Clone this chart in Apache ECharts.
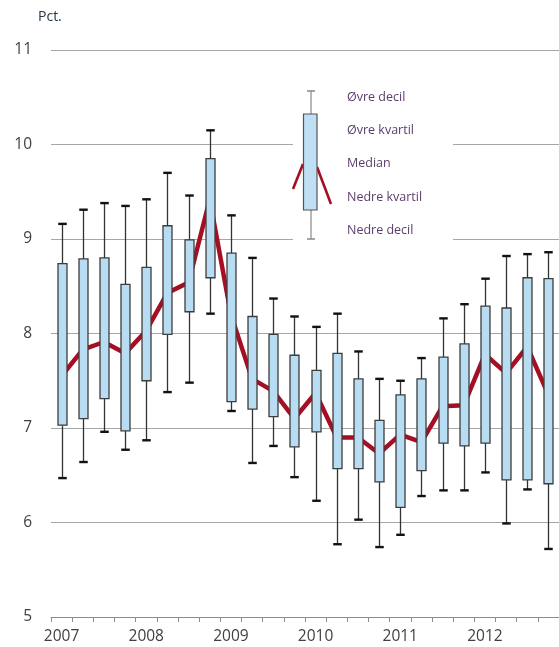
<!DOCTYPE html>
<html>
<head>
<meta charset="utf-8">
<script src="https://cdn.jsdelivr.net/npm/echarts@6/dist/echarts.min.js"></script>
<style>
  html, body { margin: 0; padding: 0; background: #fff; }
  #chart { width: 559px; height: 647px; }
</style>
</head>
<body>
<div id="chart"></div>
<script>
// Quarterly distribution, 2007 K1 - 2012 K4 (pct.)
const quarters = [
  '2007 K1', '2007 K2', '2007 K3', '2007 K4',
  '2008 K1', '2008 K2', '2008 K3', '2008 K4',
  '2009 K1', '2009 K2', '2009 K3', '2009 K4',
  '2010 K1', '2010 K2', '2010 K3', '2010 K4',
  '2011 K1', '2011 K2', '2011 K3', '2011 K4',
  '2012 K1', '2012 K2', '2012 K3', '2012 K4'
];
const upperDecile = [9.16, 9.31, 9.38, 9.35, 9.42, 9.70, 9.46, 10.15, 9.25, 8.80, 8.37, 8.18,
                     8.07, 8.21, 7.81, 7.52, 7.50, 7.74, 8.16, 8.31, 8.58, 8.82, 8.84, 8.86];
const upperQuartile = [8.74, 8.79, 8.80, 8.52, 8.70, 9.14, 8.99, 9.85, 8.85, 8.18, 7.99, 7.77,
                       7.61, 7.79, 7.52, 7.08, 7.35, 7.52, 7.75, 7.89, 8.29, 8.27, 8.59, 8.58];
const median = [7.55, 7.83, 7.91, 7.79, 8.03, 8.43, 8.54, 9.42, 8.20, 7.52, 7.39, 7.10,
                7.37, 6.90, 6.90, 6.73, 6.93, 6.85, 7.23, 7.24, 7.78, 7.58, 7.86, 7.35];
const lowerQuartile = [7.03, 7.10, 7.31, 6.97, 7.50, 7.99, 8.23, 8.59, 7.28, 7.20, 7.12, 6.80,
                       6.96, 6.57, 6.57, 6.43, 6.16, 6.55, 6.84, 6.81, 6.84, 6.45, 6.45, 6.41];
const lowerDecile = [6.47, 6.64, 6.96, 6.77, 6.87, 7.38, 7.48, 8.21, 7.18, 6.63, 6.81, 6.48,
                     6.23, 5.77, 6.03, 5.74, 5.87, 6.28, 6.34, 6.34, 6.53, 5.99, 6.35, 5.72];

const legendLabels = ['Øvre decil', 'Øvre kvartil', 'Median', 'Nedre kvartil', 'Nedre decil'];

const boxRows = quarters.map((q, i) => [
  i, upperDecile[i], upperQuartile[i], median[i], lowerQuartile[i], lowerDecile[i]
]);

const BOX_FILL = '#b8dcf2';
const BOX_EDGE = '#3d3d3d';
const MEDIAN_RED = '#a50f23';
const FONT = '"Open Sans", sans-serif';

function renderBox(params, api) {
  const i = api.value(0);
  const hi = api.coord([i, api.value(1)]);
  const q3 = api.coord([i, api.value(2)]);
  const q1 = api.coord([i, api.value(4)]);
  const lo = api.coord([i, api.value(5)]);
  const x = Math.round(hi[0]) + 0.5;
  const bw = 9, cw = 8.5;
  return {
    type: 'group',
    children: [
      { type: 'line', shape: { x1: x, y1: hi[1], x2: x, y2: q3[1] },
        style: { stroke: '#333', lineWidth: 1.3 } },
      { type: 'line', shape: { x1: x, y1: q1[1], x2: x, y2: lo[1] },
        style: { stroke: '#333', lineWidth: 1.3 } },
      { type: 'line', shape: { x1: x - cw / 2, y1: hi[1], x2: x + cw / 2, y2: hi[1] },
        style: { stroke: '#111', lineWidth: 2.4 } },
      { type: 'line', shape: { x1: x - cw / 2, y1: lo[1], x2: x + cw / 2, y2: lo[1] },
        style: { stroke: '#111', lineWidth: 2.4 } },
      { type: 'rect', shape: { x: x - bw / 2, y: q3[1], width: bw, height: q1[1] - q3[1] },
        style: { fill: BOX_FILL, stroke: BOX_EDGE, lineWidth: 1.3 } }
    ]
  };
}

// Key drawn at the upper right: a sample box with its five labels
const keyX = 311, keyTop = 91, keyQ3 = 114, keyQ1 = 210, keyBottom = 239;
const keyLabelY = [97, 130, 163, 197, 230];
const keyGraphics = [
  { type: 'rect', shape: { x: 293, y: 80, width: 160, height: 166 },
    style: { fill: '#fff' }, z: 5 },
  { type: 'line', shape: { x1: 293, y1: 189, x2: 303, y2: 164 },
    style: { stroke: MEDIAN_RED, lineWidth: 2.6 }, z: 6 },
  { type: 'line', shape: { x1: 317, y1: 167, x2: 331, y2: 204 },
    style: { stroke: MEDIAN_RED, lineWidth: 2.6 }, z: 6 },
  { type: 'line', shape: { x1: keyX, y1: keyTop, x2: keyX, y2: keyBottom },
    style: { stroke: '#888', lineWidth: 1.2 }, z: 6 },
  { type: 'line', shape: { x1: keyX - 4, y1: keyTop, x2: keyX + 4, y2: keyTop },
    style: { stroke: '#888', lineWidth: 1.5 }, z: 6 },
  { type: 'line', shape: { x1: keyX - 4, y1: keyBottom, x2: keyX + 4, y2: keyBottom },
    style: { stroke: '#888', lineWidth: 1.5 }, z: 6 },
  { type: 'rect', shape: { x: 303.5, y: keyQ3, width: 13.5, height: keyQ1 - keyQ3 },
    style: { fill: '#bfe0f4', stroke: '#555', lineWidth: 1.2 }, z: 7 }
].concat(legendLabels.map((t, k) => ({
  type: 'text', x: 347, y: keyLabelY[k], z: 7,
  style: { text: t, fill: '#5b3d6c', font: '12.5px ' + FONT, textVerticalAlign: 'middle' }
}))).concat([
  { type: 'text', x: 38, y: 17, z: 7,
    style: { text: 'Pct.', fill: '#24374a', font: '14px ' + FONT, textVerticalAlign: 'middle' } }
]);

const chart = echarts.init(document.getElementById('chart'), null, { renderer: 'canvas' });
chart.setOption({
  animation: false,
  backgroundColor: '#fff',
  grid: { left: 51, right: 0, top: 50, bottom: 30, containLabel: false },
  xAxis: {
    type: 'category',
    data: quarters,
    boundaryGap: true,
    axisLine: { show: true, lineStyle: { color: '#8c8c8c', width: 1 } },
    axisTick: { show: true, interval: 0, length: 5, lineStyle: { color: '#8c8c8c' } },
    axisLabel: {
      interval: 3, margin: 12, color: '#404040', fontSize: 15.5, fontFamily: FONT,
      formatter: v => v.slice(0, 4)
    },
    splitLine: { show: false }
  },
  yAxis: {
    type: 'value',
    min: 5, max: 11, interval: 1,
    axisLine: { show: false },
    axisTick: { show: false },
    axisLabel: { margin: 19, color: '#404040', fontSize: 15.5, fontFamily: FONT },
    splitLine: { show: true, lineStyle: { color: '#a6a6a6', width: 1.2 } }
  },
  series: [
    {
      type: 'line',
      data: median,
      symbol: 'none',
      z: 2,
      lineStyle: { color: MEDIAN_RED, width: 4.5, join: 'round' }
    },
    {
      type: 'custom',
      data: boxRows,
      encode: { x: 0, y: [1, 2, 4, 5] },
      renderItem: renderBox,
      z: 3
    }
  ],
  graphic: keyGraphics
});
</script>
</body>
</html>
